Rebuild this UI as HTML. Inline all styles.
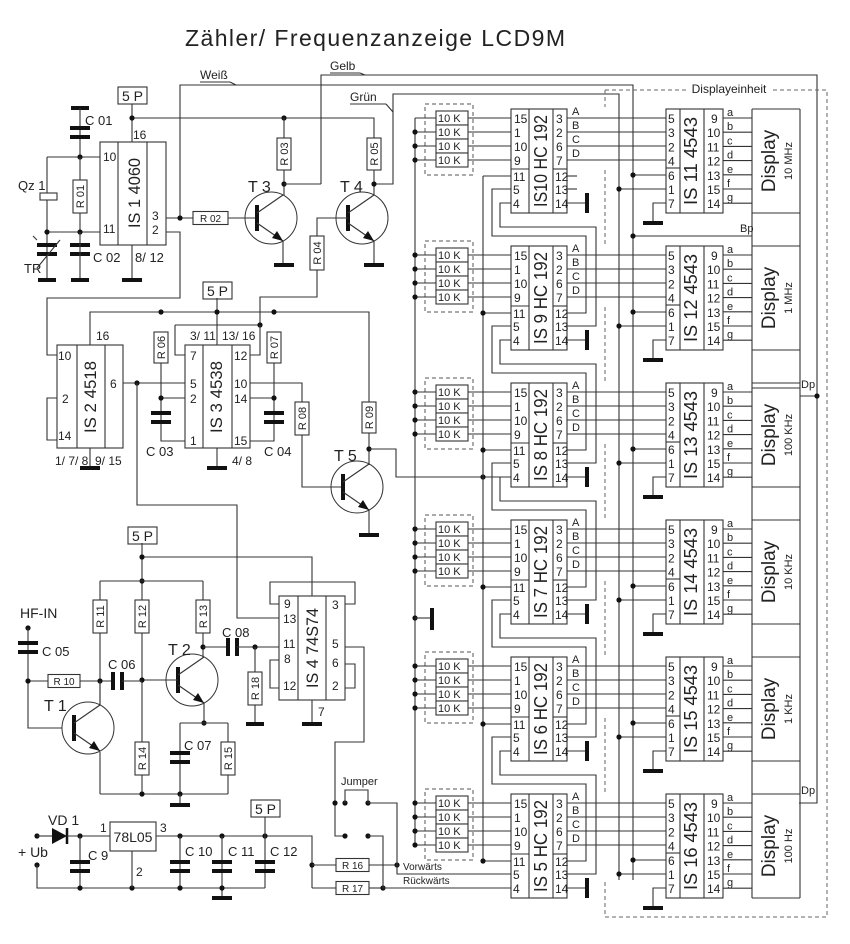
<!DOCTYPE html>
<html><head><meta charset="utf-8">
<style>
html,body{margin:0;padding:0;background:#fff;}
svg{display:block;font-family:"Liberation Sans",Arial,sans-serif;}
</style></head>
<body>
<svg id="s" width="850" height="944" viewBox="0 0 850 944" xmlns="http://www.w3.org/2000/svg"></svg>
<script>
var o=[];
function L(pts,w,c,dash){var d='';for(var i=0;i<pts.length;i+=2)d+=(i?'L':'M')+pts[i]+' '+pts[i+1];
o.push('<path d="'+d+'" fill="none" stroke="'+(c||'#333')+'" stroke-width="'+(w||1.1)+'"'+(dash?' stroke-dasharray="'+dash+'"':'')+'/>');}
function D(x,y){o.push('<circle cx="'+x+'" cy="'+y+'" r="2.6" fill="#111"/>');}
function T(x,y,t,s,a,extra){o.push('<text x="'+x+'" y="'+y+'" font-size="'+(s||11)+'" fill="#222"'+(a?' text-anchor="'+a+'"':'')+(extra||'')+'>'+t+'</text>');}
function RT(x,y,t,s,len){o.push('<text x="'+x+'" y="'+y+'" font-size="'+s+'" fill="#222" text-anchor="middle"'+(len?' textLength="'+len+'" lengthAdjust="spacingAndGlyphs"':'')+' transform="rotate(-90 '+x+' '+y+')">'+t+'</text>');}
function R(x,y,w,h){o.push('<rect x="'+x+'" y="'+y+'" width="'+w+'" height="'+h+'" fill="#fff" stroke="#333" stroke-width="1.1"/>');}
function RV(cx,y1,y2,lab){R(cx-7,y1,14,y2-y1);RT(cx+4,(y1+y2)/2,lab,11);}
function RH(x1,x2,cy,lab){R(x1,cy-6.5,x2-x1,13);T((x1+x2)/2,cy+4,lab,10,'middle');}
function CV(cx,y){L([cx-10,y,cx+10,y],4,'#111');L([cx-10,y+9,cx+10,y+9],4,'#111');}
function CH(x,cy){L([x,cy-9,x,cy+9],4,'#111');L([x+9,cy-9,x+9,cy+9],4,'#111');}
function G(cx,y,w){w=w||10;L([cx-w,y,cx+w,y],4,'#111');}
function GV(x,y1,y2){L([x,y1,x,y2],4,'#111');}
function BOX(t,s){R(t[0],t[1],t[2]-t[0],t[3]-t[1]);}
function NPN(cx,cy,lab,lx,ly){o.push('<circle cx="'+cx+'" cy="'+cy+'" r="26" fill="none" stroke="#333" stroke-width="1"/>');
L([cx-14,cy-13,cx-14,cy+13],4,'#111');L([cx-14,cy-5,cx+12,cy-23]);L([cx-14,cy+5,cx+12,cy+23]);
o.push('<path d="M'+(cx+12)+' '+(cy+23)+'L'+(cx+1)+' '+(cy+20)+'L'+(cx+6)+' '+(cy+13)+'Z" fill="#111"/>');
T(lx,ly,lab,16);}
function P5(x,y){R(x,y,29,17);T(x+14.5,y+14,'5 P',14,'middle');}

T(185,46,'Zähler/ Frequenzanzeige  LCD9M',23,null,' textLength="380"');

L([180,218,180,85,633,85,633,880]);T(200,79,'Weiß',12);L([200,82,230,82]);L([230,82,236,85]);
L([321,184,321,75,817,75,817,803,799,803]);T(330,70,'Gelb',12);L([330,73,360,73]);L([360,73,365,75]);
L([374,184,393,184,393,94,619,94,619,880]);T(350,101,'Grün',12);L([350,104,386,104]);L([386,104,393,112]);

P5(118,87);L([132,104,132,142]);L([132,118,374,118,374,138]);D(132,118);D(284,118);L([284,118,284,138]);
G(80,108,9);L([80,108,80,157]);CV(80,128);T(85,125,'C 01',13);
L([47,157,100,157]);D(80,157);RV(80,180,213,'R 01');L([80,157,80,180]);L([80,213,80,232]);
L([47,157,47,280]);L([47,232,100,232]);D(47,232);D(80,232);
R(40,193,17,7);T(18,190,'Qz 1',13);
CV(47,245);L([37,268,60,240]);L([37,240,33,236]);T(24,273,'TR',13);G(47,280,9);
CV(80,245);L([80,232,80,280]);G(80,280,9);T(93,262,'C 02',13);
BOX([100,142,166,245]);L([118,142,118,245]);L([147,142,147,245]);
T(133,139,'16',12);T(103,161,'10',12);T(103,233,'11',12);T(152,220,'3',12);T(152,234,'2',12);T(135,262,'8/ 12',13);
RT(140,193,'IS 1   4060',17,70);
L([132,245,132,280]);G(132,280,10);
L([166,218,193,218]);D(180,218);RH(193,228,218,'R 02');L([228,218,257,218]);
L([166,232,180,232,180,298,47,298,47,355,57,355]);
RV(284,138,170,'R 03');L([284,170,284,195]);D(284,184);L([284,184,321,184]);
NPN(271,218,'T 3',248,192);L([283,241,283,265]);G(284,265,10);
RV(374,138,170,'R 05');L([374,170,374,195]);D(374,184);
NPN(362,218,'T 4',340,192);L([374,241,374,265]);G(374,265,10);
L([348,218,317,218,317,236]);RV(317,236,270,'R 04');L([317,270,317,297,260,297,260,325]);

P5(203,282);L([217,298,217,345]);L([90,345,90,312,369,312,369,402]);D(161,312);D(217,312);D(274,312);
BOX([57,345,123,448]);L([77,345,77,448]);L([105,345,105,448]);
T(96,340,'16',12);T(58,360,'10',12);T(62,403,'2',12);T(58,440,'14',12);T(110,388,'6',12);
T(55,465,'1/ 7/ 8',12);T(95,465,'9/ 15',12);RT(96,397,'IS 2   4518',17,72);
L([57,398,47,398,47,440,57,440]);L([90,448,90,468]);G(90,468,10);
BOX([185,345,250,448]);L([203,345,203,448]);L([232,345,232,448]);
T(190,340,'3/ 11',12);T(222,340,'13/ 16',12);T(190,360,'7',12);T(190,388,'5',12);T(190,403,'2',12);T(190,445,'1',12);
T(234,360,'12',12);T(234,388,'10',12);T(234,403,'14',12);T(234,445,'15',12);RT(222,397,'IS 3   4538',17,72);
T(232,465,'4/ 8',12);L([217,448,217,468]);G(217,468,10);
L([175,325,260,325]);D(260,325);L([175,325,175,355,185,355]);L([260,325,260,355,250,355]);
L([123,383,185,383]);D(137,383);
RV(161,332,363,'R 06');L([161,363,161,441,185,441]);L([161,398,185,398]);D(161,398);CV(161,413);T(146,456,'C 03',13);
RV(274,332,363,'R 07');L([274,363,274,441,250,441]);L([250,398,274,398]);D(274,398);CV(274,413);T(264,456,'C 04',13);
L([250,383,302,383,302,402]);RV(302,402,435,'R 08');L([302,435,302,487,343,487]);
RV(369,402,433,'R 09');L([369,433,369,465]);D(369,449);L([369,449,396,449,396,477,511,477]);D(483,477);
NPN(357,487,'T 5',334,461);L([369,510,369,535]);G(369,535,10);

L([137,383,137,505,237,505,237,618,280,618]);
P5(128,527);L([142,543,142,742]);L([142,557,312,557,312,596]);D(142,557);D(142,581);
L([100,581,203,581]);L([100,581,100,600]);L([203,581,203,600]);
RV(100,600,633,'R 11');RV(142,600,633,'R 12');RV(203,600,633,'R 13');
L([100,633,100,705]);L([203,633,203,658]);D(203,647);
BOX([279,596,345,700]);L([298,596,298,700]);L([326,596,326,700]);
T(284,608,'9',12);T(283,623,'13',12);T(283,648,'11',12);T(284,663,'8',12);T(283,690,'12',12);
T(332,609,'3',12);T(332,648,'5',12);T(332,667,'6',12);T(332,690,'2',12);T(318,716,'7',12);
RT(318,648,'IS 4   74S74',17,80);
L([279,604,270,604,270,582,355,582,355,604,345,604]);
L([279,660,270,660,270,688,279,688]);L([345,664,355,664,355,688,345,688]);
L([312,700,312,724]);G(312,724,10);
L([203,647,228,647]);CH(228,647);L([237,647,279,647]);D(255,647);T(222,637,'C 08',13);
L([255,647,255,672]);RV(255,672,705,'R 18');L([255,705,255,724]);G(255,724,9);
L([345,647,364,647,364,742,335,742,335,836,345,836]);
NPN(192,680,'T 2',168,655);L([142,680,178,680]);D(142,680);
L([204,703,204,723]);D(204,723);L([180,723,228,723]);L([180,723,180,794]);CV(180,753);T(184,750,'C 07',13);
L([228,723,228,742]);RV(228,742,775,'R 15');L([228,775,228,794]);
RV(142,742,775,'R 14');L([142,775,142,794]);
L([100,794,228,794]);D(142,794);D(180,794);L([180,794,180,805]);G(180,805,10);
T(20,618,'HF-IN',14);D(28,628);L([28,628,28,728,62,728]);CV(28,643);T(42,656,'C 05',13);
L([28,681,48,681]);RH(48,80,681,'R 10');L([80,681,112,681]);D(28,681);D(100,681);
CH(113,681);L([122,681,142,681]);T(108,669,'C 06',13);
NPN(88,728,'T 1',44,711);L([100,752,100,794]);L([100,705,100,681]);
D(37,836);L([37,836,52,836]);o.push('<path d="M52 828L52 844L67 836Z" fill="#111"/>');L([67,828,67,844],2.5,'#111');
L([67,836,110,836]);D(80,836);T(48,825,'VD 1',14);T(18,857,'+ Ub',14);
R(110,822,46,29);T(133,842,'78L05',14,'middle');T(100,832,'1',12);T(160,832,'3',12);T(136,876,'2',12);
L([156,836,312,836,312,888]);D(180,836);D(222,836);D(265,836);P5(251,800);L([265,817,265,836]);
L([80,836,80,888]);CV(80,862);T(88,860,'C 9',13);
L([180,836,180,888]);CV(180,862);T(185,856,'C 10',13);
L([222,836,222,898]);CV(222,862);T(228,856,'C 11',13);
L([265,836,265,888]);CV(265,862);T(270,856,'C 12',13);
D(37,865);L([37,865,37,888,265,888]);D(80,888);D(132,888);D(180,888);D(222,888);L([132,851,132,888]);G(222,898,10);
D(312,865);L([312,865,336,865]);RH(336,369,865,'R 16');L([369,865,397,865]);D(397,865);
L([312,888,336,888]);RH(336,369,888,'R 17');L([369,888,383,888]);D(383,888);
D(335,803);D(345,803);D(368,803);D(345,836);D(368,836);T(341,785,'Jumper',11);
L([345,803,345,790,368,790,368,803]);L([368,803,397,803,397,874,511,874]);L([368,836,383,836,383,888,511,888]);
T(403,870,'Vorwärts',10);T(403,884,'Rückwärts',10);

L([605,90,605,107],1,'#666','4,3');L([605,90,827,90,827,917,605,917,605,880],1,'#666','4,3');
o.push('<rect x="686" y="82" width="86" height="14" fill="#fff"/>');T(729,93,'Displayeinheit',12,'middle');

L([752,109,752,898]);L([800,109,800,898]);L([752,109,800,109]);L([752,898,800,898]);
var names=['10 MHz','1 MHz','100 KHz','10 KHz','1 KHz','100 Hz'];
var isc=['IS10','IS 9','IS 8','IS 7','IS 6','IS 5'];
var isd=['IS 11','IS 12','IS 13','IS 14','IS 15','IS 16'];
L([415,118,415,846]);L([483,176,483,861]);
D(415,618);L([415,618,430,618]);GV(432,608,630);
L([633,236,752,236]);D(633,236);T(740,232,'Bp',11);
L([752,388,800,388]);L([800,396,817,396]);D(817,396);T(801,388,'Dp',11);
L([752,794,800,794]);T(801,794,'Dp',11);
for(var k=0;k<6;k++){var Y=118+137*k;
 o.push('<rect x="425" y="'+(Y-14)+'" width="48" height="71" fill="none" stroke="#555" stroke-width="1" stroke-dasharray="4,3"/>');
 for(var i=0;i<4;i++){var yy=Y+i*14;L([415,yy,511,yy]);if(k>0||i>0)D(415,yy);R(436,yy-7,32,14);T(438,yy+4,'10 K',11);}
 BOX([511,Y-9,567,Y+95]);L([529,Y-9,529,Y+95]);L([553,Y-9,553,Y+95]);L([511,Y+51,529,Y+51]);L([553,Y+51,567,Y+51]);
 var lp=['15','1','10','9'],rp=['3','2','6','7'],ab=['A','B','C','D'];
 for(i=0;i<4;i++){T(514,Y+i*14+5,lp[i],12);T(556,Y+i*14+5,rp[i],12);T(572,Y+i*14-3,ab[i],11);L([567,Y+i*14,666,Y+i*14]);}
 T(513,Y+63,'11',12);T(513,Y+76,'5',12);T(513,Y+90,'4',12);T(555,Y+63,'12',12);T(555,Y+76,'13',12);T(555,Y+90,'14',12);
 RT(547,Y+43,isc[k]+'  HC 192',18,92);
 L([567,Y+85,587,Y+85]);GV(587,Y+75,Y+95);
 L([483,Y+58,511,Y+58]);if(k>0)D(483,Y+58);
 if(k<5){L([511,Y+71,492,Y+71,492,Y+118,586,Y+118,586,Y+195,567,Y+195]);
  L([511,Y+85,500,Y+85,500,Y+109,596,Y+109,596,Y+208,567,Y+208]);}
 if(k==0){L([567,Y+58,577,Y+58]);L([567,Y+71,577,Y+71]);}
 if(k<5)L([605,Y+52,605,Y+126],1,'#666','4,3');
 BOX([666,Y-9,723,Y+95]);L([680,Y-9,680,Y+95]);L([704,Y-9,704,Y+95]);L([666,Y+50,680,Y+50]);
 var l2=['5','3','2','4','6','1','7'],r2=['9','10','11','12','13','15','14'],sg='abcdefg';
 for(i=0;i<7;i++){var y2=Y+i*14.2;T(668,y2+5,l2[i],12);T(i==0?711:707,y2+5,r2[i],12);T(727,y2-2,sg[i],11);L([723,y2,752,y2]);}
 RT(697,Y+43,isd[k]+'   4543',18,88);
 L([633,Y+57,666,Y+57]);D(633,Y+57);L([619,Y+71,666,Y+71]);D(619,Y+71);
 L([666,Y+85,653,Y+85,653,Y+105]);G(653,Y+105,10);
 L([752,Y-9,800,Y-9]);L([752,Y+95,800,Y+95]);
 RT(775,Y+43,'Display',19);RT(792,Y+43,names[k],11);
}
document.getElementById('s').innerHTML=o.join('');
</script>
</body></html>
